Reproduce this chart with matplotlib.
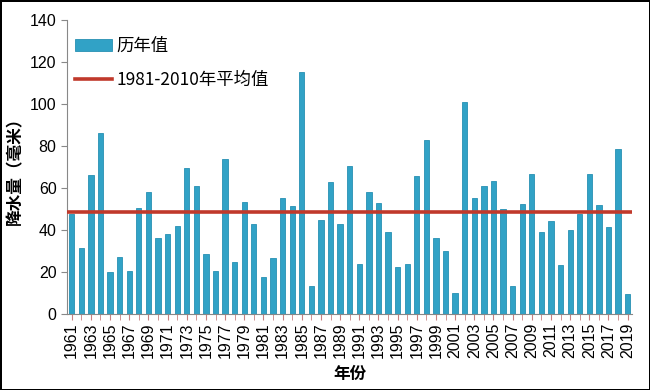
import matplotlib
matplotlib.use("Agg")
import matplotlib.pyplot as plt
import numpy as np

plt.rcParams['font.family'] = ['Noto Sans CJK SC', 'DejaVu Sans']

years = list(range(1961, 2020))
rain = [47.5, 31.3, 66.2, 86.3, 20.0, 27.3, 20.3, 50.3, 58.2, 36.0,
        38.1, 41.7, 69.4, 61.1, 28.6, 20.3, 73.8, 24.8, 53.2, 42.7,
        17.8, 26.8, 55.4, 51.6, 115.4, 13.5, 44.6, 63.0, 42.7, 70.2,
        24.0, 57.9, 52.9, 39.2, 22.2, 23.7, 65.7, 82.7, 36.3, 29.8,
        9.8, 101.1, 55.1, 61.1, 63.2, 50.0, 13.5, 52.5, 66.8, 39.2,
        44.1, 23.5, 40.0, 47.5, 66.5, 52.0, 41.4, 78.6, 9.5]
normal_1981_2010 = 48.3
yticks = [0, 20, 40, 60, 80, 100, 120, 140]

fig = plt.figure(figsize=(6.5, 3.9), dpi=100, facecolor="white", edgecolor="black", linewidth=1.0)
ax = fig.add_axes([0.103, 0.195, 0.870, 0.754])

x = np.arange(len(years))
bars = ax.bar(x, rain, width=0.55, color="#31A2C6", edgecolor="#2790B3", linewidth=0.6, label="历年值", zorder=2)
line = ax.axhline(normal_1981_2010, color="#C0392B", lw=2.6, label="1981-2010年平均值", zorder=3)

ax.set_xlim(-0.5, len(years) - 0.5)
ax.set_ylim(0, 140)
ax.set_yticks(yticks)
ax.set_xticks(x, minor=True)
ax.set_xticks(x[::2])
ax.set_xticklabels([str(y) for y in years[::2]], rotation=90, fontsize=11.5, family=['Liberation Sans', 'DejaVu Sans'])
ax.tick_params(axis="y", labelsize=11.5, direction="out", length=4, color="#888888")
ax.tick_params(axis="x", which="both", direction="out", length=4, color="#C98080", pad=2)
for lab in ax.get_yticklabels():
    lab.set_family(['Liberation Sans', 'DejaVu Sans'])

for s in ("top", "right"):
    ax.spines[s].set_visible(False)
ax.spines["left"].set_color("#888888")
ax.spines["bottom"].set_color("#888888")

ax.set_ylabel("降水量（毫米）", fontsize=12, fontweight="bold", labelpad=4)
ax.set_xlabel("年份", fontsize=12, fontweight="bold", labelpad=5)

ax.legend([bars, line], ["历年值", "1981-2010年平均值"], loc="upper left", bbox_to_anchor=(-0.01, 0.99),
          frameon=False, fontsize=12.5, handlelength=2.1, handletextpad=0.3, labelspacing=0.95,
          borderaxespad=0.4)

fig.savefig("out.png", dpi=100)
